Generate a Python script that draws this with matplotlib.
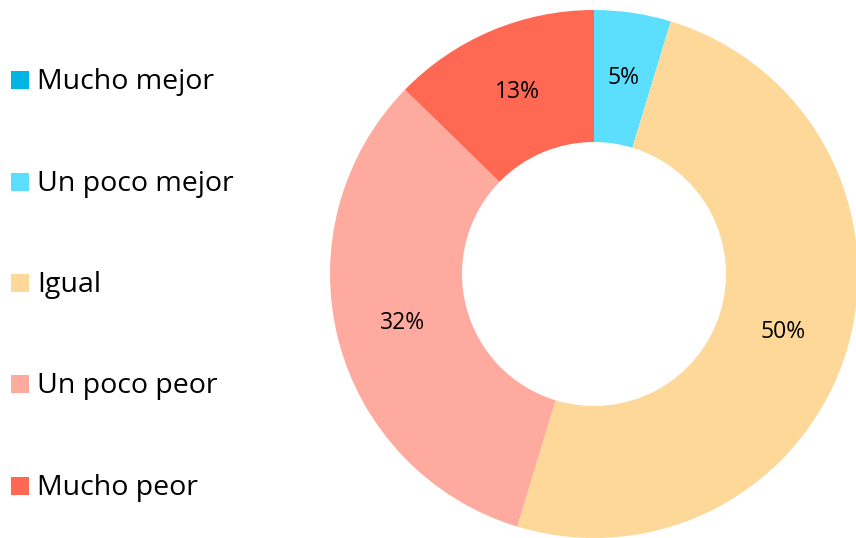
import matplotlib
matplotlib.use("Agg")
import matplotlib.pyplot as plt
from matplotlib.patches import Rectangle

categories = ["Mucho mejor", "Un poco mejor", "Igual", "Un poco peor", "Mucho peor"]
values = [0, 4.7, 50.0, 32.6, 12.7]
pct_labels = ["0%", "5%", "50%", "32%", "13%"]
colors = ["#00B4E6", "#5CDFFF", "#FDD899", "#FFAA9E", "#FF6953"]

plt.rcParams['font.family'] = ['Open Sans', 'DejaVu Sans']

fig = plt.figure(figsize=(8.56, 5.38), dpi=100)
W, H = 856, 538
ax = fig.add_axes([330 / W, 0 / H, 528 / W, 528 / H])

idx = [i for i, v in enumerate(values) if v > 0]
wedges, texts = ax.pie(
    [values[i] for i in idx], colors=[colors[i] for i in idx], startangle=90, counterclock=False,
    radius=1.0, wedgeprops=dict(width=0.5, edgecolor='none'),
    labels=[pct_labels[i] for i in idx], labeldistance=0.75,
    textprops=dict(fontsize=16.5, color='black', ha='center', va='center'))
ax.set_xlim(-1, 1)
ax.set_ylim(-1, 1)
ax.set_aspect('equal')
ax.axis('off')

ys = [80, 182, 283, 384, 486]
for cat, col, y in zip(categories, colors, ys):
    fig.patches.append(Rectangle((11 / W, 1 - (y + 9) / H), 18 / W, 18 / H,
                                 transform=fig.transFigure, facecolor=col, edgecolor='none'))
    fig.text(37 / W, 1 - (y + 2) / H, cat, fontsize=20.5, va='center', ha='left', color='black')

fig.savefig("out.png", dpi=100)
